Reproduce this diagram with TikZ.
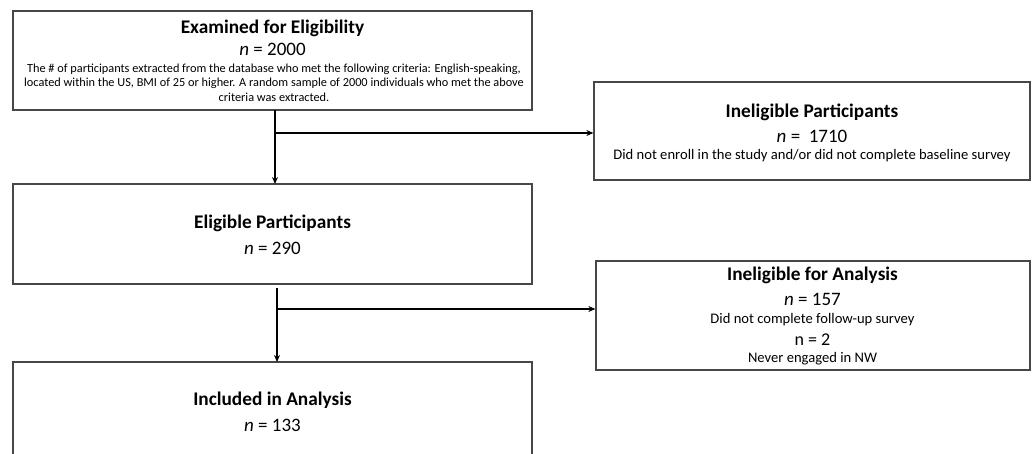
\documentclass[tikz,border=0pt]{standalone}
\usepackage{fontspec}
\setmainfont{Carlito}
\usetikzlibrary{arrows.meta}
\begin{document}
\begin{tikzpicture}[x=1pt,y=-1pt,
  box/.style={draw=black!72, line width=1.3pt, fill=none, inner sep=0pt},
  ttl/.style={inner sep=0pt, font=\fontsize{19.3}{23}\selectfont\bfseries},
  num/.style={inner sep=0pt, font=\fontsize{19}{23}\selectfont},
  small/.style={inner sep=0pt, font=\fontsize{12.3}{14}\selectfont},
  mid/.style={inner sep=0pt, font=\fontsize{14.6}{17}\selectfont},
  conn/.style={draw=black, line width=1.8pt, -{Stealth[length=7pt,width=6pt]}},
  connb/.style={draw=black, line width=1.1pt, -{Stealth[length=7pt,width=6pt]}}]
\useasboundingbox (0,0) rectangle (1035,454);
\clip (0,0) rectangle (1035,454);
\fill[white] (0,0) rectangle (1035,454);
% boxes
\node[box, minimum width=519pt, minimum height=99pt] (b1) at (272.5,60.5) {};
\node[box, minimum width=519pt, minimum height=100pt] (b2) at (272.5,234) {};
\node[box, minimum width=519pt, minimum height=108pt] (b5) at (272.5,416) {};
\node[box, minimum width=436pt, minimum height=98pt] (b3) at (812,131) {};
\node[box, minimum width=434pt, minimum height=109pt] (b4) at (813,315.5) {};
% texts box 1
\node[ttl] (t1) at (272.5,28) {Examined for Eligibility};
\node[num] (n1) at (272.5,49) {\textit{n} = 2000};
\node[small] (d1a) at (274,69) {The \# of participants extracted from the database who met the following criteria: English-speaking,};
\node[small] (d1b) at (274,83) {located within the US, BMI of 25 or higher. A random sample of 2000 individuals who met the above};
\node[small] (d1c) at (274,97) {criteria was extracted.};
% box 2
\node[ttl] (t2) at (272.5,223) {Eligible Participants};
\node[num] (n2) at (272.5,248) {\textit{n} = 290};
% box 5
\node[ttl] (t5) at (272.5,400) {Included in Analysis};
\node[num] (n5) at (272.5,425) {\textit{n} = 133};
% box 3
\node[ttl] (t3) at (812,112) {Ineligible Participants};
\node[num] (n3) at (812,136) {\textit{n} =~~1710};
\node[mid] (d3) at (812,156) {Did not enroll in the study and/or did not complete baseline survey};
% box 4
\node[ttl] (t4) at (812.5,275) {Ineligible for Analysis};
\node[num] (n4) at (812.5,299) {\textit{n} = 157};
\node[mid] (d4a) at (812.5,320) {Did not complete follow-up survey};
\node[num, font=\fontsize{18}{21}\selectfont] (n4b) at (812.5,340) {n = 2};
\node[mid] (d4b) at (812.5,359) {Never engaged in NW};
% connectors
\coordinate (j1) at (275,133);
\coordinate (s1) at (275,110);
\coordinate (e1) at (275,184);
\draw[conn] (s1) -- (e1);
\draw[conn] (j1) -- (j1 -| b3.west);
\coordinate (s2) at (277,288);
\coordinate (e2) at (277,362);
\coordinate (j2) at (277,309);
\draw[connb] (s2) -- (e2);
\draw[connb] (j2) -- (j2 -| b4.west);
\end{tikzpicture}
\end{document}
